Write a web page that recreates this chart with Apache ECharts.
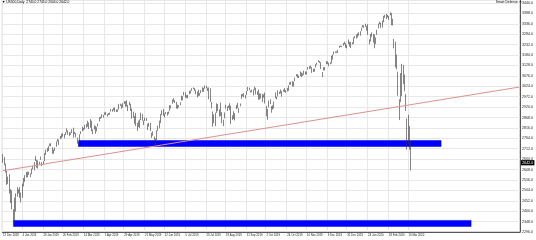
<!DOCTYPE html>
<html><head><meta charset="utf-8">
<script src="https://cdn.jsdelivr.net/npm/echarts@6/dist/echarts.min.js"></script>
<style>html,body{margin:0;padding:0;background:#fff}#c{width:536px;height:240px}</style>
</head><body><div id="c"></div>
<script>
const symbol = 'US500';
const period = 'Daily';
const eaName = 'Smart Defense';

// trading sessions shown on the chart
const historyDays = [
  ['Dec 2018', [12,13,14,17,18,19,20,21,24,26,27,28,31]],
  ['Jan 2019', [2,3,4,7,8,9,10,11,14,15,16,17,18,22,23,24,25,28,29,30,31]],
  ['Feb 2019', [1,4,5,6,7,8,11,12,13,14,15,19,20,21,22,25,26,27,28]],
  ['Mar 2019', [1,4,5,6,7,8,11,12,13,14,15,18,19,20,21,22,25,26,27,28,29]],
  ['Apr 2019', [1,2,3,4,5,8,9,10,11,12,15,16,17,18,22,23,24,25,26,29,30]],
  ['May 2019', [1,2,3,6,7,8,9,10,13,14,15,16,17,20,21,22,23,24,28,29,30,31]],
  ['Jun 2019', [3,4,5,6,7,10,11,12,13,14,17,18,19,20,21,24,25,26,27,28]],
  ['Jul 2019', [1,2,3,5,8,9,10,11,12,15,16,17,18,19,22,23,24,25,26,29,30,31]],
  ['Aug 2019', [1,2,5,6,7,8,9,12,13,14,15,16,19,20,21,22,23,26,27,28,29,30]],
  ['Sep 2019', [3,4,5,6,9,10,11,12,13,16,17,18,19,20,23,24,25,26,27,30]],
  ['Oct 2019', [1,2,3,4,7,8,9,10,11,14,15,16,17,18,21,22,23,24,25,28,29,30,31]],
  ['Nov 2019', [1,4,5,6,7,8,11,12,13,14,15,18,19,20,21,22,25,26,27,29]],
  ['Dec 2019', [2,3,4,5,6,9,10,11,12,13,16,17,18,19,20,23,24,26,27,30,31]],
  ['Jan 2020', [2,3,6,7,8,9,10,13,14,15,16,17,21,22,23,24,27,28,29,30,31]],
  ['Feb 2020', [3,4,5,6,7,10,11,12,13,14,18,19,20,21,24,25,26,27,28]],
  ['Mar 2020', [2,3,4,5,6,9,10,11,12]]
];
// empty sessions to the right (chart shift area)
const futureDays = [
  ['Mar 2020', [13,16,17,18,19,20,23,24,25,26,27,30,31]],
  ['Apr 2020', [1,2,3,6,7,8,9,13,14,15,16,17,20,21,22,23,24,27,28,29,30]],
  ['May 2020', [1,4,5,6,7,8,11,12,13,14,15,18,19,20,21,22,26,27,28,29]],
  ['Jun 2020', [1,2,3,4,5,8,9,10,11,12,15,16,17,18,19,22,23,24,25,26,29,30]],
  ['Jul 2020', [1,2,6,7,8,9,10]]
];

// [open, close, low, high]
const ohlc = [
  // Dec 2018
  [2664,2651,2642,2685],[2658,2650,2630,2671],[2629,2600,2593,2638],[2591,2546,2531,2601],[2559,2546,2536,2573],[2547,2507,2488,2585],[2497,2467,2441,2510],[2465,2417,2409,2504],[2401,2351,2347,2410],[2364,2468,2344,2468],[2442,2489,2398,2489],[2498,2486,2473,2520],[2499,2507,2488,2509],
  // Jan 2019
  [2477,2510,2467,2520],[2491,2448,2444,2493],[2475,2532,2467,2538],[2536,2550,2524,2566],[2568,2574,2547,2580],[2580,2585,2568,2596],[2574,2597,2570,2598],[2588,2596,2581,2597],[2580,2583,2570,2589],[2585,2610,2585,2613],[2614,2616,2609,2625],[2609,2636,2604,2645],[2651,2671,2651,2675],[2657,2633,2617,2657],[2643,2639,2613,2653],[2639,2643,2632,2647],[2657,2665,2657,2673],[2644,2644,2625,2645],[2645,2640,2632,2650],[2654,2681,2650,2690],[2685,2704,2681,2708],
  // Feb 2019
  [2703,2707,2696,2716],[2706,2725,2701,2725],[2728,2738,2725,2738],[2735,2731,2724,2739],[2717,2706,2687,2719],[2693,2708,2687,2708],[2713,2709,2702,2718],[2722,2744,2722,2749],[2750,2753,2748,2761],[2743,2746,2731,2757],[2760,2775,2760,2776],[2770,2780,2764,2787],[2780,2784,2772,2789],[2780,2774,2764,2785],[2780,2792,2780,2795],[2804,2796,2794,2813],[2792,2794,2782,2803],[2788,2792,2775,2795],[2788,2784,2781,2793],
  // Mar 2019
  [2798,2804,2790,2809],[2815,2793,2767,2817],[2794,2789,2785,2797],[2790,2771,2769,2791],[2766,2749,2737,2767],[2731,2743,2722,2745],[2747,2784,2747,2784],[2787,2792,2785,2799],[2800,2811,2799,2822],[2811,2808,2804,2816],[2811,2822,2809,2831],[2822,2833,2817,2836],[2841,2832,2822,2852],[2831,2824,2810,2843],[2819,2855,2817,2860],[2845,2801,2800,2852],[2796,2799,2785,2809],[2812,2818,2808,2829],[2819,2806,2787,2825],[2810,2815,2799,2820],[2828,2834,2823,2838],
  // Apr 2019
  [2848,2868,2848,2869],[2869,2867,2861,2872],[2876,2873,2866,2885],[2873,2880,2867,2881],[2884,2893,2882,2893],[2888,2896,2880,2896],[2886,2878,2873,2886],[2881,2889,2880,2890],[2892,2889,2882,2893],[2900,2907,2898,2910],[2908,2906,2897,2909],[2912,2908,2903,2917],[2916,2900,2896,2918],[2904,2905,2895,2908],[2898,2908,2896,2909],[2910,2934,2908,2936],[2935,2927,2926,2937],[2928,2926,2912,2933],[2925,2940,2917,2940],[2941,2943,2936,2950],[2937,2946,2922,2949],
  // May 2019
  [2952,2924,2923,2954],[2922,2918,2900,2931],[2930,2946,2929,2947],[2908,2932,2901,2937],[2913,2884,2862,2913],[2880,2880,2866,2897],[2859,2871,2836,2875],[2863,2881,2825,2891],[2841,2812,2801,2841],[2820,2834,2820,2852],[2820,2850,2816,2858],[2856,2876,2855,2892],[2858,2860,2852,2885],[2841,2840,2830,2853],[2855,2864,2851,2868],[2857,2856,2851,2865],[2837,2822,2805,2837],[2832,2826,2822,2841],[2830,2802,2801,2841],[2790,2783,2766,2792],[2786,2788,2777,2799],[2767,2752,2751,2772],
  // Jun 2019
  [2752,2744,2728,2763],[2763,2803,2755,2804],[2818,2826,2801,2827],[2828,2843,2814,2852],[2852,2873,2840,2885],[2886,2886,2880,2904],[2903,2885,2877,2911],[2882,2879,2869,2888],[2886,2891,2885,2895],[2886,2887,2877,2895],[2889,2889,2885,2898],[2906,2917,2901,2930],[2920,2926,2913,2929],[2949,2954,2937,2958],[2952,2950,2946,2964],[2951,2945,2940,2955],[2945,2917,2913,2946],[2926,2913,2911,2932],[2919,2924,2918,2929],[2932,2942,2929,2944],
  // Jul 2019
  [2971,2964,2952,2977],[2964,2973,2955,2974],[2978,2996,2978,2996],[2985,2990,2967,2994],[2979,2976,2966,2980],[2966,2979,2963,2981],[2990,2993,2985,3002],[2999,3000,2988,3003],[3003,3014,3001,3014],[3018,3014,3010,3018],[3012,3004,3001,3015],[3006,2985,2984,3006],[2978,2995,2968,2998],[3005,2977,2975,3007],[2981,2985,2977,2990],[2994,3005,2989,3005],[2999,3019,2996,3019],[3016,3004,2996,3016],[3013,3026,3012,3028],[3024,3020,3014,3025],[3007,3013,3000,3017],[3017,2980,2959,3018],
  // Aug 2019
  [2981,2953,2946,3014],[2943,2932,2914,2945],[2898,2844,2822,2898],[2861,2881,2839,2884],[2859,2884,2825,2892],[2897,2938,2891,2939],[2930,2919,2900,2935],[2908,2883,2873,2909],[2881,2926,2876,2943],[2895,2840,2839,2895],[2846,2848,2825,2857],[2864,2889,2864,2893],[2913,2924,2913,2932],[2920,2901,2900,2924],[2922,2925,2917,2928],[2930,2923,2905,2939],[2912,2847,2835,2927],[2866,2878,2856,2879],[2893,2870,2860,2899],[2861,2888,2853,2890],[2910,2924,2910,2931],[2938,2926,2914,2941],
  // Sep 2019
  [2910,2906,2891,2914],[2924,2938,2924,2938],[2961,2977,2961,2985],[2980,2979,2974,2985],[2989,2979,2969,2990],[2972,2980,2963,2980],[2982,3001,2981,3001],[3019,3010,3001,3021],[3013,3007,3004,3017],[2997,2998,2993,3003],[2996,3006,2994,3006],[3001,3006,2978,3008],[3010,3006,3005,3022],[3008,2992,2983,3016],[2984,2991,2981,2999],[3002,2966,2957,3007],[2969,2984,2957,2989],[2985,2977,2963,2987],[2986,2961,2946,2987],[2967,2977,2967,2983],
  // Oct 2019
  [2983,2940,2938,2993],[2924,2887,2874,2925],[2885,2910,2856,2911],[2918,2952,2918,2953],[2945,2938,2935,2959],[2920,2893,2892,2925],[2911,2919,2907,2929],[2918,2938,2913,2948],[2964,2970,2964,2993],[2965,2966,2959,2972],[2973,2996,2973,3004],[2990,2989,2985,2997],[3001,2997,2988,3008],[2997,2986,2972,3000],[2997,3007,2997,3007],[3010,2996,2995,3015],[2994,3005,2991,3005],[3014,3010,2998,3016],[3004,3023,3001,3028],[3032,3039,3032,3044],[3036,3036,3032,3047],[3039,3047,3023,3050],[3046,3038,3023,3047],
  // Nov 2019
  [3050,3067,3050,3067],[3078,3078,3074,3085],[3080,3075,3066,3084],[3075,3077,3065,3078],[3087,3085,3075,3098],[3082,3093,3070,3093],[3081,3087,3076,3088],[3089,3092,3081,3102],[3084,3094,3082,3098],[3091,3097,3083,3098],[3107,3120,3107,3120],[3118,3122,3110,3124],[3127,3120,3113,3127],[3115,3108,3091,3119],[3108,3104,3095,3111],[3111,3110,3097,3113],[3118,3134,3118,3134],[3135,3141,3131,3142],[3145,3154,3145,3154],[3148,3141,3140,3150],
  // Dec 2019
  [3144,3114,3110,3144],[3087,3094,3070,3095],[3103,3113,3103,3120],[3120,3117,3103,3120],[3134,3146,3134,3150],[3141,3136,3135,3148],[3135,3133,3124,3142],[3136,3142,3134,3144],[3141,3169,3138,3176],[3167,3169,3157,3182],[3183,3192,3183,3198],[3195,3192,3191,3198],[3195,3191,3190,3198],[3192,3206,3191,3206],[3223,3221,3216,3226],[3227,3224,3220,3227],[3225,3223,3220,3226],[3227,3240,3227,3240],[3247,3240,3234,3247],[3240,3221,3216,3240],[3215,3231,3213,3231],
  // Jan 2020
  [3244,3258,3235,3258],[3226,3235,3222,3246],[3218,3246,3215,3246],[3241,3237,3233,3244],[3238,3253,3236,3268],[3267,3275,3264,3275],[3281,3265,3262,3283],[3271,3288,3268,3288],[3285,3283,3277,3294],[3282,3289,3277,3299],[3303,3317,3301,3317],[3323,3330,3318,3330],[3321,3321,3316,3329],[3330,3321,3321,3337],[3316,3326,3302,3326],[3333,3295,3281,3334],[3248,3244,3234,3258],[3256,3276,3248,3285],[3289,3273,3271,3293],[3256,3284,3242,3286],[3282,3226,3214,3282],
  // Feb 2020
  [3235,3249,3235,3268],[3281,3298,3281,3306],[3324,3334,3313,3337],[3344,3345,3334,3347],[3335,3328,3316,3342],[3319,3352,3317,3352],[3365,3358,3344,3376],[3370,3379,3366,3381],[3365,3374,3360,3385],[3378,3380,3367,3381],[3370,3370,3356,3375],[3381,3386,3378,3393],[3380,3373,3329,3389],[3361,3338,3328,3361],[3258,3226,3214,3260],[3238,3128,3118,3247],[3140,3116,3108,3182],[3063,2979,2977,3097],[2916,2954,2855,2959],
  // Mar 2020
  [2974,3090,2945,3090],[3096,3003,2976,3136],[3045,3130,3034,3130],[3075,3023,2999,3083],[2954,2972,2901,2985],[2863,2747,2707,2863],[2813,2882,2734,2882],[2825,2741,2707,2825],[2740,2642,2604,2745]
];

const dateTicks = ['12 Dec 2018','4 Jan 2019','29 Jan 2019','20 Feb 2019','14 Mar 2019','5 Apr 2019','29 Apr 2019','21 May 2019','12 Jun 2019','5 Jul 2019','29 Jul 2019','19 Aug 2019','11 Sep 2019','2 Oct 2019','24 Oct 2019','14 Nov 2019','9 Dec 2019','31 Dec 2019','24 Jan 2020','18 Feb 2020','10 Mar 2020'];
const priceTicks = [2296,2348,2400,2452,2504,2556,2608,2660,2712,2764,2816,2868,2920,2972,3024,3076,3128,3180,3232,3284,3336,3388,3440];
const priceTop = 3455;

// drawn objects (time, price anchors)
const zones = [
  { from: '8 Mar 2019', to: '15 Apr 2020', low: 2723, high: 2753 },
  { from: '24 Dec 2018', to: '18 May 2020', low: 2324, high: 2354 }
];
const trendLine = { from: ['12 Dec 2018', 2602], to: ['10 Jul 2020', 3020] };

const expand = list => list.flatMap(([m, days]) => days.map(d => d + ' ' + m));
const categories = expand(historyDays).concat(expand(futureDays));
const last = ohlc[ohlc.length - 1];
const FONT = 'Liberation Sans, Arial, sans-serif';
const isTick = (i, v) => dateTicks.indexOf(v) >= 0;

const chart = echarts.init(document.getElementById('c'), null, { renderer: 'canvas' });
chart.setOption({
  animation: false,
  backgroundColor: '#fff',
  title: [
    { text: '\u25BC ' + symbol + ',' + period + '  ' + [last[0], last[3], last[2], last[1]].map(v => v.toFixed(1)).join(' '),
      left: 2, top: 1, padding: 0,
      textStyle: { fontSize: 3.3, fontWeight: 'normal', color: '#000', fontFamily: FONT } },
    { text: eaName + ' \u263A', right: 14, top: 1, padding: 0,
      textStyle: { fontSize: 3.3, fontWeight: 'normal', color: '#000', fontFamily: FONT } }
  ],
  grid: { left: 0, right: 13, top: 0, bottom: 8, show: true, borderColor: '#aaa', borderWidth: 1 },
  xAxis: {
    type: 'category', data: categories, boundaryGap: true,
    axisLine: { lineStyle: { color: '#555', width: 1 } },
    axisTick: { show: false },
    axisLabel: { interval: isTick, fontSize: 2.8, color: '#222', fontFamily: FONT, align: 'left', margin: 2 },
    splitLine: { show: true, interval: isTick, lineStyle: { color: '#e8e8e8', width: 1 } }
  },
  yAxis: {
    type: 'value', position: 'right', scale: true,
    min: priceTicks[0], max: priceTop, interval: priceTicks[1] - priceTicks[0],
    axisLine: { show: true, lineStyle: { color: '#555', width: 1 } },
    axisTick: { show: false },
    axisLabel: { fontSize: 3.6, color: '#222', fontFamily: FONT, margin: 2, showMaxLabel: false,
      formatter: v => v.toFixed(1) },
    splitLine: { show: true, lineStyle: { color: '#e8e8e8', width: 1 } }
  },
  series: [{
    type: 'candlestick',
    data: ohlc,
    barWidth: 1,
    itemStyle: { color: '#fff', color0: '#333', borderColor: '#333', borderColor0: '#333', borderWidth: 0.6 },
    markArea: {
      silent: true,
      itemStyle: { color: '#0000ff', borderColor: '#0000cc', borderWidth: 0.5 },
      data: zones.map(z => [{ coord: [z.from, z.high] }, { coord: [z.to, z.low] }])
    },
    markLine: {
      silent: true, symbol: ['none', 'none'],
      lineStyle: { color: '#dd9090', width: 1, type: 'solid' },
      label: { show: false },
      data: [
        [{ coord: trendLine.from }, { coord: trendLine.to }],
        { yAxis: last[1], lineStyle: { color: 'rgba(0,0,0,0)' },
          label: { show: true, position: 'end', distance: 1, formatter: p => Number(p.value).toFixed(1),
            backgroundColor: '#000', color: '#fff', fontSize: 3.6, fontFamily: FONT, padding: [0.6, 1.2] } }
      ]
    }
  }]
});
</script></body></html>
